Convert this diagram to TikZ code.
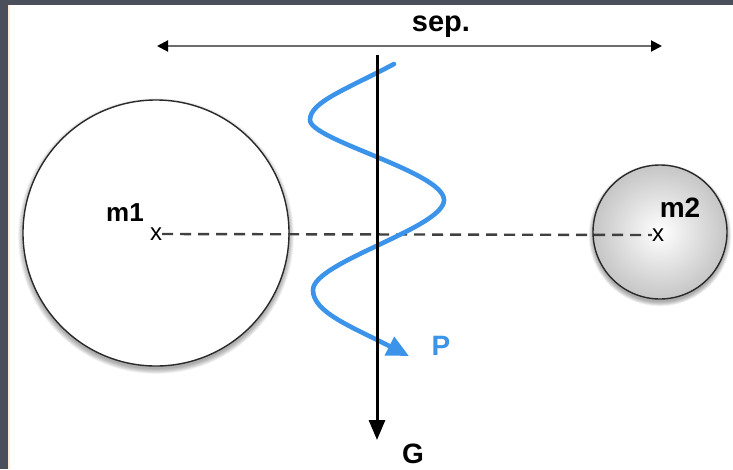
\documentclass[tikz,border=0pt]{standalone}
\usepackage{fontspec}
\setmainfont{Liberation Sans}
\usetikzlibrary{arrows.meta}
\definecolor{bgdark}{HTML}{4B4F5C}
\definecolor{wave}{HTML}{3B94EA}
\definecolor{rim}{HTML}{2A2A2A}
\tikzset{
  mass/.style={circle, draw=rim, line width=1.4pt, inner sep=0pt},
  lbl/.style={font=\bfseries\fontsize{28}{30}\selectfont, inner sep=0pt},
  cross/.style={font=\fontsize{24}{26}\selectfont, inner sep=0pt},
  sepline/.style={draw=gray!85!black, line width=2pt, {Triangle[length=11pt,width=11pt,color=black]}-{Triangle[length=11pt,width=11pt,color=black]}},
  gline/.style={draw=black, line width=3pt, -{Triangle[length=20pt,width=16pt]}},
  wline/.style={draw=wave, line width=4.6pt, -{Triangle[length=22pt,width=20pt]}},
  axis/.style={draw=black!75, line width=2.4pt, dash pattern=on 11pt off 7pt},
}
\begin{document}
\begin{tikzpicture}[x=1pt,y=-1pt]
\useasboundingbox (0,0) rectangle (733,469);
\fill[bgdark] (0,0) rectangle (733,469);
\fill[orange!15] (8,5) rectangle (733,469);
\fill[white] (10,5) rectangle (733,469);
% shadows
\foreach \k in {0,...,6}{
  \fill[black,opacity=0.05] (156,236) circle[radius=133+\k*0.8];
  \fill[black,opacity=0.05] (660,235) circle[radius=67+\k*0.7];
}
\node[mass, fill=white, minimum size=266pt] (m1) at (156,233) {};
\node[mass, shading=radial, inner color=white, outer color=gray!45, minimum size=134pt] (m2) at (660,232) {};
% labels
\node[lbl, font=\bfseries\fontsize{26}{28}\selectfont] (m1l) at (125,213) {m1};
\node[lbl] (m2l) at (680,208) {m2};
\node[cross] (x1) at (156,234) {x};
\node[cross] (x2) at (658,235) {x};
\draw[axis] (x1.east) -- (x2.west);
% sep arrow
\coordinate (sl) at (157,46);
\coordinate (sr) at (662,46);
\draw[sepline] (sl) -- (sr);
\node[lbl, font=\bfseries\fontsize{29}{31}\selectfont] (sep) at (441,27) {sep.};
% wave
\coordinate (w0) at (394,64);
\coordinate (w1) at (310,120);
\coordinate (w2) at (444,200);
\coordinate (w3) at (313,290);
\coordinate (w4) at (409,356);
\draw[wline, line cap=round] (w0) .. controls (345,90) and (310,102) .. (w1)
  .. controls (310,140) and (444,172) .. (w2)
  .. controls (444,228) and (313,262) .. (w3)
  .. controls (313,312) and (350,326) .. (w4);
\node[lbl, text=wave] (p) at (441,346) {P};
% G arrow
\coordinate (gt) at (377,55);
\coordinate (gb) at (377,440);
\draw[gline] (gt) -- (gb);
\node[lbl] (g) at (413,454) {G};
\end{tikzpicture}
\end{document}
